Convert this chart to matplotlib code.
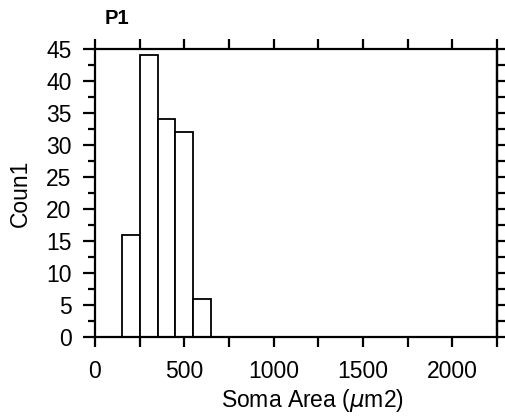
import numpy as np
import matplotlib
matplotlib.use("Agg")
import matplotlib.pyplot as plt

# Histogram of soma areas
bin_edges = [150, 250, 350, 450, 550, 650]
counts = [16, 44, 34, 32, 6]
x_major = [0, 500, 1000, 1500, 2000]
y_major = [0, 5, 10, 15, 20, 25, 30, 35, 40, 45]

plt.rcParams["font.family"] = ["Liberation Sans", "DejaVu Sans"]

fig = plt.figure(figsize=(5.06, 4.18), dpi=100)
ax = fig.add_axes([95 / 506, 1 - 337 / 418, (497 - 95) / 506, (337 - 49) / 418])

lefts = bin_edges[:-1]
widths = np.diff(bin_edges)
ax.bar(lefts, counts, width=widths, align="edge", facecolor="white",
       edgecolor="black", linewidth=1.3, zorder=2)

ax.set_xlim(0, 2250)
ax.set_ylim(0, 45)

ax.set_xticks(x_major)
ax.set_xticks(np.arange(0, 2251, 250), minor=True)
ax.set_yticks(y_major)
ax.set_yticks(np.arange(0, 45.1, 2.5), minor=True)

for s in ax.spines.values():
    s.set_linewidth(1.6)

fs = 16.5
ax.tick_params(axis="x", which="both", direction="out", top=True, bottom=True,
               length=7.5, width=1.6, labelsize=fs, pad=9)
ax.tick_params(axis="y", which="major", direction="out", left=True, right=False,
               length=9, width=1.6, labelsize=fs, pad=8)
ax.tick_params(axis="y", which="minor", direction="out", left=True, right=False,
               length=5, width=1.6)

# right-hand ruler ticks
sec = ax.secondary_yaxis("right")
sec.set_yticks(np.arange(0, 45.1, 2.5))
sec.tick_params(direction="out", length=6, width=1.6, labelright=False)
sec.spines["right"].set_linewidth(1.6)

ax.set_xlabel("Soma Area ($\\mu$m2)", fontsize=fs, labelpad=3, x=0.54)
ax.set_ylabel("Coun1", fontsize=fs, labelpad=10)

fig.text(105 / 506, 1 - 24 / 418, "P1", fontsize=14.5, fontweight="bold",
         ha="left", va="baseline")

fig.savefig("out.png", dpi=100)
